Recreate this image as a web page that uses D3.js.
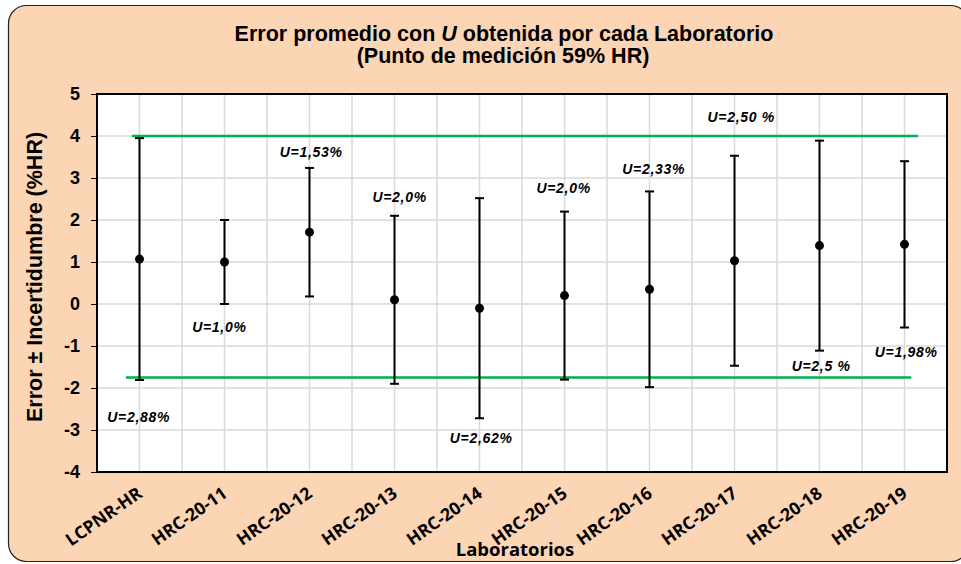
<!DOCTYPE html>
<html>
<head>
<meta charset="utf-8">
<style>
    body { margin: 0; background: #fff; }
    svg { display: block; }
    .ttl { font-family: 'Liberation Sans', Arial, sans-serif; font-weight: bold; }
</style>
</head>
<body>
<svg width="961" height="564"></svg>

<script src="https://d3js.org/d3.v7.min.js"></script>
<script>
    // data
    let labs = ["LCPNR-HR", "HRC-20-11", "HRC-20-12", "HRC-20-13", "HRC-20-14",
        "HRC-20-15", "HRC-20-16", "HRC-20-17", "HRC-20-18", "HRC-20-19"]
    let errores = [1.07, 1.0, 1.71, 0.1, -0.1, 0.2, 0.35, 1.03, 1.39, 1.42]
    let incert = [2.88, 1.0, 1.53, 2.0, 2.62, 2.0, 2.33, 2.5, 2.5, 1.98]
    let yTicks = [-4, -3, -2, -1, 0, 1, 2, 3, 4, 5]

    // green limit lines: value, start and end (in category units)
    let limites = [
        { v: 4.0, x0: 0.41, x1: 9.66 },
        { v: -1.75, x0: 0.34, x1: 9.58 }
    ]

    // U labels, anchored in data units (category index, value)
    let etiquetas = [
        { t: "U=2,88%", x: 0.49, y: -2.69 },
        { t: "U=1,0%", x: 1.44, y: -0.55 },
        { t: "U=1,53%", x: 2.52, y: 3.62 },
        { t: "U=2,0%", x: 3.56, y: 2.55 },
        { t: "U=2,62%", x: 4.52, y: -3.19 },
        { t: "U=2,0%", x: 5.49, y: 2.76 },
        { t: "U=2,33%", x: 6.55, y: 3.21 },
        { t: "U=2,50 %", x: 7.58, y: 4.45 },
        { t: "U=2,5 %", x: 8.52, y: -1.48 },
        { t: "U=1,98%", x: 9.52, y: -1.14 }
    ]

    let svg = d3.select("svg")

    let margin = { left: 97, right: 947, top: 94, bottom: 472 }

    // outer panel
    svg.append("rect")
        .attr("x", 8.5).attr("y", 5.5)
        .attr("width", 960).attr("height", 556)
        .attr("rx", 18)
        .style("fill", "#fcd5b4")
        .style("stroke", "#222")
        .style("stroke-width", 1.2)

    let x = d3.scaleLinear().domain([0, labs.length]).range([margin.left, margin.right])
    let y = d3.scaleLinear().domain([-4, 5]).range([margin.bottom, margin.top])

    // plot area
    svg.append("rect")
        .attr("x", margin.left).attr("y", margin.top)
        .attr("width", margin.right - margin.left)
        .attr("height", margin.bottom - margin.top)
        .style("fill", "white")

    // vertical gridlines every half category
    let vgrid = d3.range(1, labs.length * 2).map(d => d / 2)
    svg.append("g")
        .selectAll("line")
        .data(vgrid)
        .join("line")
        .attr("x1", d => x(d)).attr("x2", d => x(d))
        .attr("y1", margin.top).attr("y2", margin.bottom)
        .style("stroke", "#d9d9d9")
        .style("stroke-width", 1.5)

    svg.append("g")
        .selectAll("line")
        .data(yTicks)
        .join("line")
        .attr("x1", margin.left).attr("x2", margin.right)
        .attr("y1", d => y(d)).attr("y2", d => y(d))
        .style("stroke", "#d9d9d9")
        .style("stroke-width", 1.5)

    svg.append("rect")
        .attr("x", margin.left).attr("y", margin.top)
        .attr("width", margin.right - margin.left)
        .attr("height", margin.bottom - margin.top)
        .style("fill", "none")
        .style("stroke", "#000")
        .style("stroke-width", 2)

    // y axis
    let yAxis = svg.append("g")
        .attr("transform", "translate(" + margin.left + ",0)")
        .call(d3.axisLeft(y).tickValues(yTicks).tickSize(6).tickPadding(11).tickFormat(d => String(d)))
    yAxis.select(".domain").remove()
    yAxis.selectAll("line").style("stroke", "#000").style("stroke-width", 1)
    yAxis.selectAll("text")
        .attr("class", "ttl")
        .style("font-size", "18px")
        .style("fill", "#000")

    // limit lines
    svg.append("g")
        .selectAll("line")
        .data(limites)
        .join("line")
        .attr("x1", d => x(d.x0)).attr("x2", d => x(d.x1))
        .attr("y1", d => y(d.v)).attr("y2", d => y(d.v))
        .style("stroke", "#00b050")
        .style("stroke-width", 2.5)

    // error bars
    let barras = svg.append("g")
        .selectAll("g")
        .data(labs)
        .join("g")

    barras.append("line")
        .attr("x1", (d, i) => x(i + 0.5)).attr("x2", (d, i) => x(i + 0.5))
        .attr("y1", (d, i) => y(errores[i] + incert[i]))
        .attr("y2", (d, i) => y(errores[i] - incert[i]))
        .style("stroke", "#000").style("stroke-width", 2)

    barras.selectAll(".cap")
        .data((d, i) => [errores[i] + incert[i], errores[i] - incert[i]].map(v => ({ v: v, i: i })))
        .join("line")
        .attr("class", "cap")
        .attr("x1", d => x(d.i + 0.5) - 4.5).attr("x2", d => x(d.i + 0.5) + 4.5)
        .attr("y1", d => y(d.v)).attr("y2", d => y(d.v))
        .style("stroke", "#000").style("stroke-width", 2)

    barras.append("circle")
        .attr("cx", (d, i) => x(i + 0.5))
        .attr("cy", (d, i) => y(errores[i]))
        .attr("r", 4.5)
        .style("fill", "#000")

    // U labels
    svg.append("g")
        .selectAll("text")
        .data(etiquetas)
        .join("text")
        .attr("class", "ttl")
        .attr("x", d => x(d.x))
        .attr("y", d => y(d.y))
        .attr("dy", "0.35em")
        .attr("text-anchor", "middle")
        .style("font-size", "14px")
        .style("font-style", "italic")
        .style("letter-spacing", "0.7px")
        .text(d => d.t)

    // x labels
    svg.append("g")
        .selectAll("text")
        .data(labs)
        .join("text")
        .attr("transform", (d, i) => "translate(" + (x(i + 0.5) + 4) + ",496) rotate(-35)")
        .attr("text-anchor", "end")
        .style("font-family", "'Open Sans', sans-serif")
        .style("font-weight", "bold")
        .style("font-size", "17.5px")
        .text(d => d)

    svg.append("text")
        .attr("x", 515).attr("y", 556)
        .attr("text-anchor", "middle")
        .style("font-family", "'Open Sans', sans-serif")
        .style("font-weight", "bold")
        .style("font-size", "18.5px")
        .text("Laboratorios")

    svg.append("text")
        .attr("class", "ttl")
        .attr("transform", "translate(42,277) rotate(-90)")
        .attr("text-anchor", "middle")
        .style("font-size", "21.5px")
        .text("Error ± Incertidumbre (%HR)")

    // title
    let t1 = svg.append("text")
        .attr("class", "ttl")
        .attr("x", 504).attr("y", 41)
        .attr("text-anchor", "middle")
        .style("font-size", "21.5px")
    t1.append("tspan").text("Error promedio con ")
    t1.append("tspan").style("font-style", "italic").text("U")
    t1.append("tspan").text(" obtenida por cada Laboratorio")

    svg.append("text")
        .attr("class", "ttl")
        .attr("x", 503).attr("y", 63)
        .attr("text-anchor", "middle")
        .style("font-size", "21.5px")
        .text("(Punto de medición 59% HR)")
</script>
</body>
</html>
